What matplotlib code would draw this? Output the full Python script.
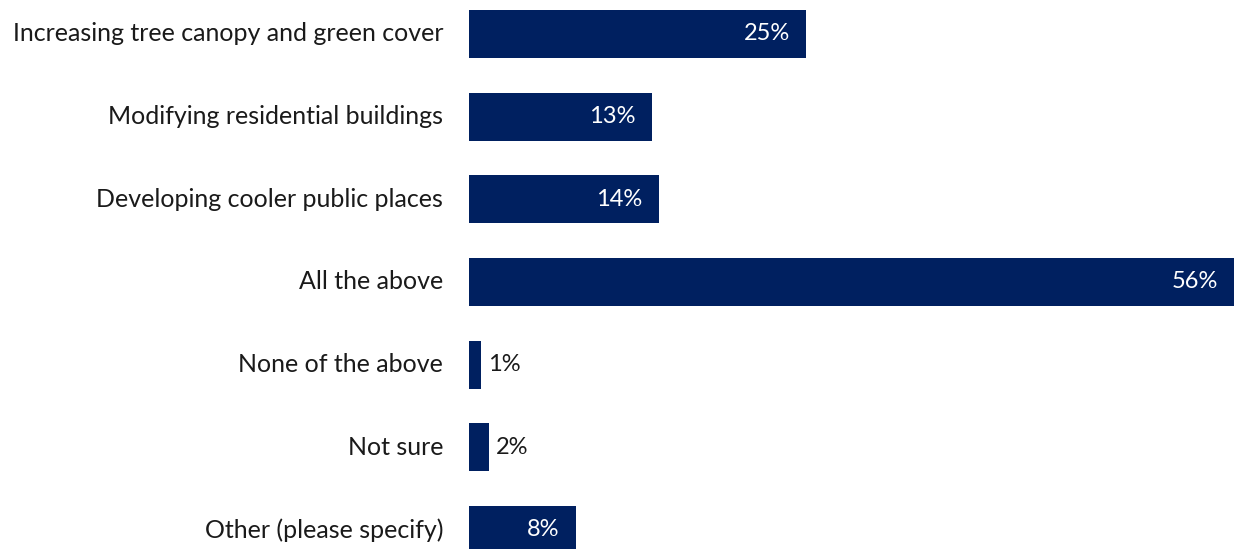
import matplotlib
matplotlib.use("Agg")
import matplotlib.pyplot as plt

# survey answers, top to bottom
categories = [
    "Increasing tree canopy and green cover",
    "Modifying residential buildings",
    "Developing cooler public places",
    "All the above",
    "None of the above",
    "Not sure",
    "Other (please specify)",
]
# bar lengths (labels show them rounded)
values = [24.7, 13.4, 13.9, 56.0, 0.9, 1.5, 7.8]
labels = ["25%", "13%", "14%", "56%", "1%", "2%", "8%"]

navy = "#002060"
plt.rcParams['font.family'] = ['Lato', 'DejaVu Sans']

fig = plt.figure(figsize=(12.34, 5.49), dpi=100)
ax = fig.add_axes([469 / 1234, 0, 1 - 469 / 1234, 1])

ypos = list(range(len(categories)))
ax.barh(ypos, values, height=0.58, color=navy)
ax.set_xlim(0, 56)
ax.set_ylim(6.23, -0.41)

for y, v, lab, name in zip(ypos, values, labels, categories):
    if v >= 5:
        ax.text(v - 1.2, y, lab, ha="right", va="center", color="white", fontsize=17)
    else:
        ax.text(v + 0.5, y, lab, ha="left", va="center", color="#1a1a1a", fontsize=17)
    ax.text(-1.9, y, name, ha="right", va="center", color="#1a1a1a", fontsize=18,
            clip_on=False)

ax.set_xticks([])
ax.set_yticks([])
for s in ax.spines.values():
    s.set_visible(False)

fig.savefig("out.png", dpi=100)
